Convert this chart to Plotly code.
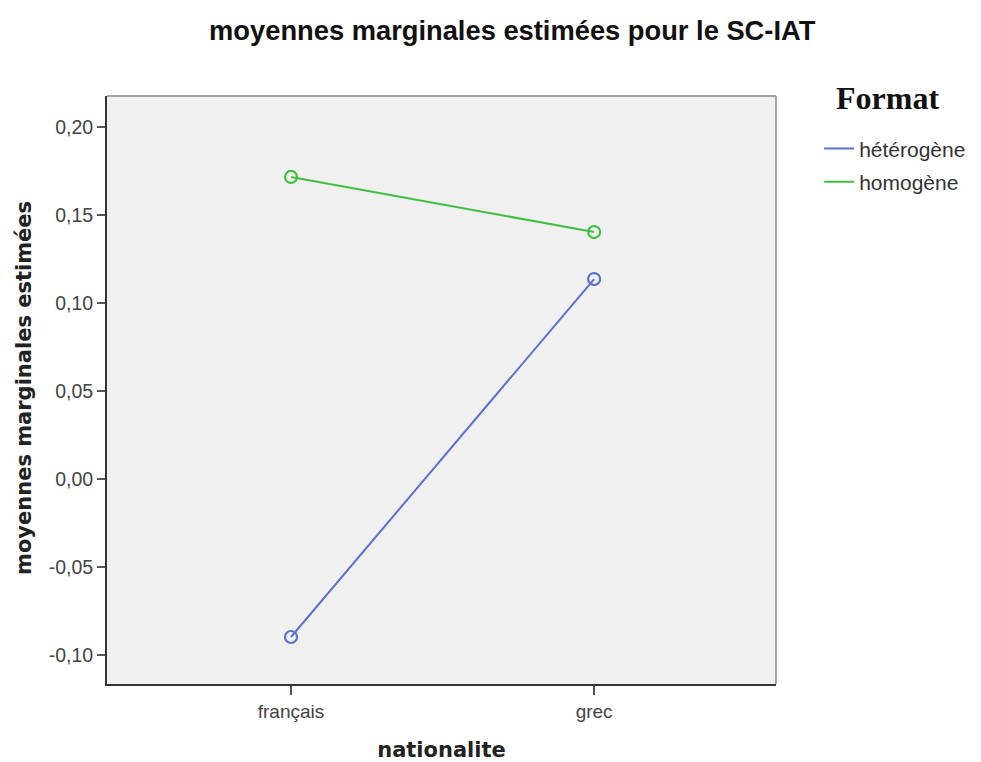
import plotly.graph_objects as go

categories = ["français", "grec"]
heterogene = [-0.0898, 0.1136]
homogene = [0.1716, 0.1403]
series_names = ["hétérogène", "homogène"]
tick_vals = [-0.10, -0.05, 0.00, 0.05, 0.10, 0.15, 0.20]
tick_text = ["-0,10", "-0,05", "0,00", "0,05", "0,10", "0,15", "0,20"]

colors = ["#5a72cf", "#40c040"]

fig = go.Figure()
for i, (name, vals, col) in enumerate(zip(series_names, [heterogene, homogene], colors)):
    fig.add_trace(go.Scatter(
        x=categories, y=vals, name=name, mode="lines", legendgroup=f"g{i}",
        line=dict(color=col, width=2),
    ))
    fig.add_trace(go.Scatter(
        x=categories, y=vals, name=name, mode="markers", showlegend=False, legendgroup=f"g{i}",
        marker=dict(symbol="circle-open", size=12, color=col, line=dict(width=2.2, color=col)),
    ))

fig.update_layout(
    width=981, height=762,
    margin=dict(l=99, r=213, t=88, b=86, autoexpand=False),
    paper_bgcolor="white", plot_bgcolor="#f0f0f0",
    title=dict(text="<b>moyennes marginales estimées pour le SC-IAT</b>",
               x=0.514, xanchor="center", y=0.971, yanchor="middle",
               font=dict(family="Liberation Sans, Arial", size=27.3, color="#111111")),
    legend=dict(x=1.0645, y=0.945, xanchor="left", yanchor="top",
                bgcolor="rgba(0,0,0,0)",
                font=dict(family="Liberation Sans, Arial", size=21, color="#333333"),
                tracegroupgap=3, itemwidth=30),
    showlegend=True,
    annotations=[
        dict(text="<b>Format</b>", xref="paper", yref="paper",
             x=(887 - 107) / 669, y=1 + (96 - 98) / 588, xanchor="center", yanchor="middle",
             showarrow=False, font=dict(family="Liberation Serif", size=32, color="#111111")),
        dict(text="<b>moyennes marginales estimées</b>", xref="paper", yref="paper",
             x=(24 - 107) / 669, y=(684 - 388) / 588, xanchor="center", yanchor="middle",
             textangle=-90, showarrow=False,
             font=dict(family="DejaVu Sans", size=21, color="#222222")),
    ],
)
fig.update_xaxes(
    type="category", range=[-0.607, 1.6],
    showgrid=False, zeroline=False,
    showline=True, linecolor="#333333", linewidth=2, mirror=False,
    ticks="outside", ticklen=9, tickwidth=2, tickcolor="#555555",
    tickfont=dict(family="Liberation Sans, Arial", size=19, color="#444444"),
    title=dict(text="<b>nationalite</b>", font=dict(family="DejaVu Sans", size=21, color="#222222"), standoff=22),
)
fig.update_yaxes(
    range=[-0.1165, 0.2176],
    tickvals=tick_vals, ticktext=tick_text,
    showgrid=False, zeroline=False,
    showline=True, linecolor="#333333", linewidth=2,
    ticks="outside", ticklen=8, tickwidth=2, tickcolor="#555555",
    tickfont=dict(family="Liberation Sans, Arial", size=19.5, color="#444444"),
)
fig.add_shape(type="line", xref="paper", yref="paper", x0=0, x1=1, y0=1, y1=1, line=dict(color="#888888", width=1.5))
fig.add_shape(type="line", xref="paper", yref="paper", x0=1, x1=1, y0=0, y1=1, line=dict(color="#888888", width=1.5))

fig.write_html("out.html")
